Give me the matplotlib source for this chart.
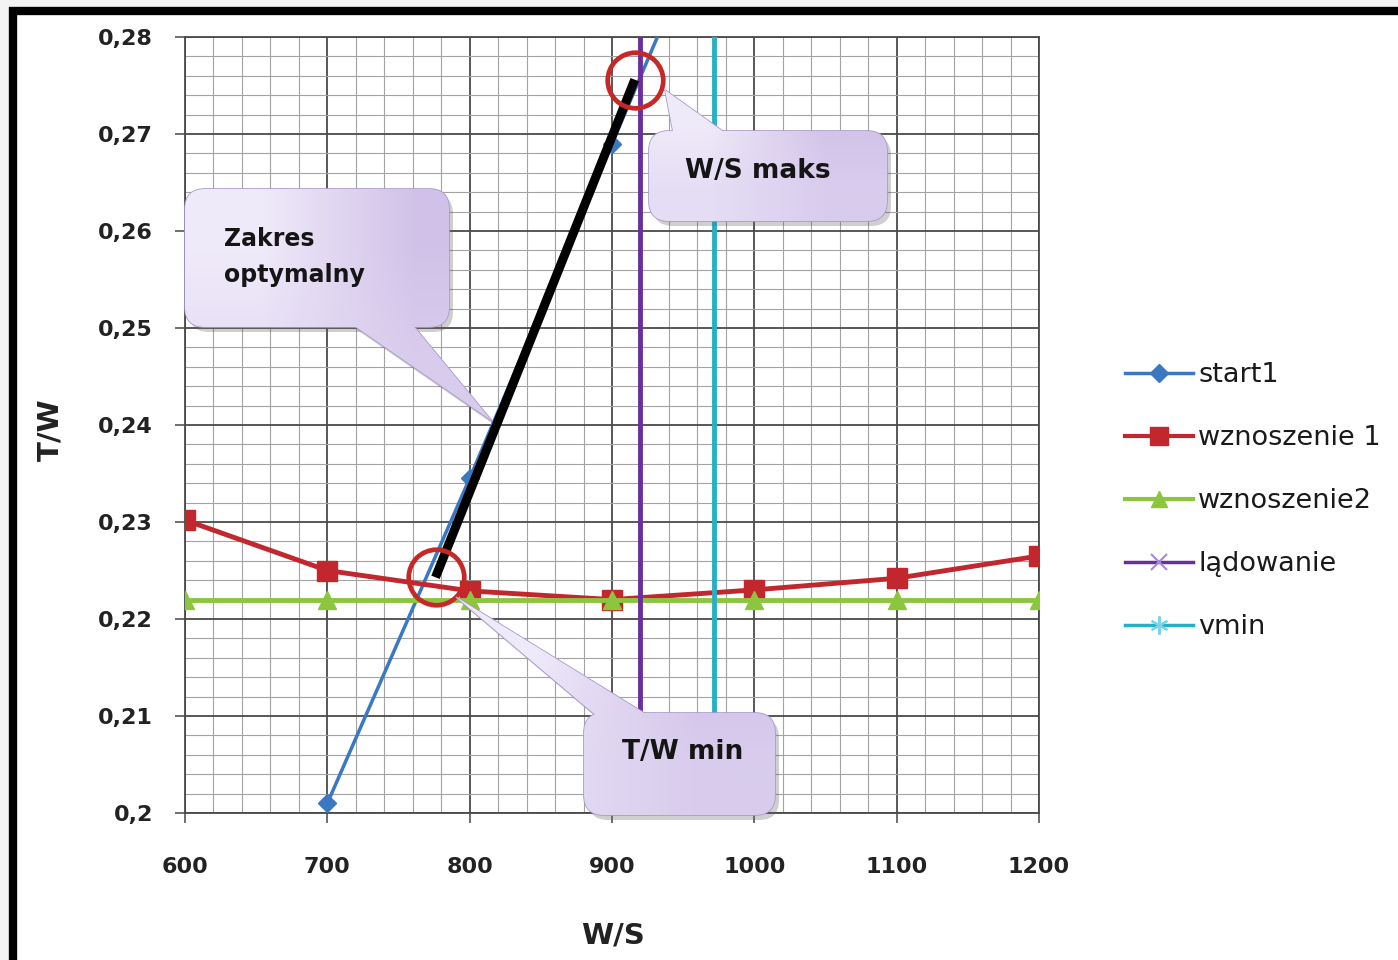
import matplotlib
matplotlib.use('Agg')
import matplotlib.pyplot as plt
import numpy as np
from matplotlib.patches import FancyBboxPatch, Polygon, Rectangle
from matplotlib.lines import Line2D
from matplotlib.ticker import MultipleLocator, FixedLocator, FixedFormatter

plt.rcParams['font.family'] = ['DejaVu Sans']

W, H = 1398, 960

# obciążenie powierzchni W/S i stosunek ciągu T/W
ws = [600, 700, 800, 900, 1000, 1100, 1200]
ws_start = [700, 800, 900, 1000]
start1 = [0.201, 0.2345, 0.269, 0.3035]
wznoszenie1 = [0.2302, 0.2250, 0.2229, 0.2220, 0.2230, 0.2242, 0.2265]
wznoszenie2 = [0.2220, 0.2220, 0.2220, 0.2220, 0.2220, 0.2220, 0.2220]
ladowanie_ws = 920
vmin_ws = 972

# zakres optymalny (od T/W min do W/S maks)
opt_ws = [776, 916]
opt_tw = [0.2243, 0.2756]

x_ticks = [600, 700, 800, 900, 1000, 1100, 1200]
y_ticks = [0.20, 0.21, 0.22, 0.23, 0.24, 0.25, 0.26, 0.27, 0.28]
y_labels = ['0,2', '0,21', '0,22', '0,23', '0,24', '0,25', '0,26', '0,27', '0,28']

c_start = '#3a78c2'
c_wz1 = '#c1272d'
c_wz2 = '#8cc63e'
c_lad = '#6a2f9c'
c_vmin = '#27b0c4'
c_ring = '#c62828'

fig = plt.figure(figsize=(W / 100, H / 100), dpi=100, facecolor='#f3f3f3')

# tło z czarną ramką (w pikselach)
bg = fig.add_axes([0, 0, 1, 1], zorder=0)
bg.set_xlim(0, W)
bg.set_ylim(H, 0)
bg.axis('off')
bg.add_patch(Rectangle((13, 11), W + 60, H + 60, facecolor='white',
                       edgecolor='black', lw=6))

ax = fig.add_axes([185 / W, 1 - 813 / H, (1039 - 185) / W, (813 - 37) / H], zorder=1)
ax.set_facecolor('none')
ax.set_xlim(600, 1200)
ax.set_ylim(0.20, 0.28)
ax.xaxis.set_major_locator(FixedLocator(x_ticks))
ax.yaxis.set_major_locator(FixedLocator(y_ticks))
ax.yaxis.set_major_formatter(FixedFormatter(y_labels))
ax.xaxis.set_minor_locator(MultipleLocator(20))
ax.yaxis.set_minor_locator(MultipleLocator(0.002))
ax.set_axisbelow(True)
ax.grid(which='major', color='#4a4a4a', lw=1.3)
ax.grid(which='minor', color='#a3a3a3', lw=0.8)
ax.tick_params(which='minor', length=0)
ax.tick_params(which='major', direction='out', length=7, width=1.2, color='#555555',
               labelsize=16, labelcolor='#222222')
ax.tick_params(axis='y', pad=16)
ax.tick_params(axis='x', pad=25)
for lab in ax.get_xticklabels() + ax.get_yticklabels():
    lab.set_fontweight('bold')
for sp in ax.spines.values():
    sp.set_color('#4a4a4a')
    sp.set_linewidth(1.3)

ax.plot(ws_start, start1, color=c_start, lw=2.5, marker='D', ms=9, zorder=3)
ax.plot(ws, wznoszenie1, color=c_wz1, lw=3.5, marker='s', ms=14, zorder=4)
ax.plot(ws, wznoszenie2, color=c_wz2, lw=3.5, marker='^', ms=13, zorder=5)
ax.axvline(ladowanie_ws, color=c_lad, lw=3.5, zorder=6)
ax.axvline(vmin_ws, color=c_vmin, lw=3.5, zorder=6)

ax.plot(opt_ws, opt_tw, color='black', lw=6.5, solid_capstyle='butt', zorder=7)
ax.plot(opt_ws, opt_tw, ls='none', marker='o', ms=40, mfc='none', mec=c_ring,
        mew=3.4, zorder=8)

fig.text(613 / W, 1 - 935 / H, 'W/S', ha='center', va='center', fontsize=21,
         fontweight='bold', color='#222222')
fig.text(50 / W, 1 - 430 / H, 'T/W', ha='center', va='center', fontsize=21,
         fontweight='bold', color='#222222', rotation=90)

# dymki z opisami
fg = fig.add_axes([0, 0, 1, 1], zorder=3)
fg.axis('off')
fg.patch.set_alpha(0)

grad = np.array([[[0.94, 0.92, 0.98], [0.82, 0.76, 0.91]],
                 [[0.90, 0.87, 0.96], [0.85, 0.80, 0.93]]])


def callout(box, tail, text, text_xy, ha='center', size=19):
    x0, y0, x1, y1 = box
    fg.add_patch(FancyBboxPatch((x0 + 4, y0 + 5), x1 - x0, y1 - y0,
                                boxstyle='round,pad=0,rounding_size=20',
                                fc='#606060', ec='none', alpha=0.3, zorder=1))
    fg.add_patch(Polygon([(px + 4, py + 5) for px, py in tail],
                         fc='#606060', ec='none', alpha=0.3, zorder=1))
    body = FancyBboxPatch((x0, y0), x1 - x0, y1 - y0,
                          boxstyle='round,pad=0,rounding_size=20',
                          fc='#ddd4ef', ec='#a999cc', lw=1.2, zorder=2)
    tip = Polygon(tail, fc='#ddd4ef', ec='#a999cc', lw=1.2, zorder=2)
    fg.add_patch(tip)
    fg.add_patch(body)
    # wspólny gradient dla dymka i ogonka
    xs = [x0, x1] + [p[0] for p in tail]
    ys = [y0, y1] + [p[1] for p in tail]
    ext = (min(xs), max(xs), max(ys), min(ys))
    for patch in (body, tip):
        im = fg.imshow(grad, extent=ext, interpolation='bilinear', aspect='auto', zorder=3)
        im.set_clip_path(patch)
    fg.text(text_xy[0], text_xy[1], text, ha=ha, va='center', fontsize=size,
            fontweight='bold', color='#151515', linespacing=1.6, zorder=4)


callout((185, 189, 449, 327), [(343, 318), (407, 318), (492, 421)],
        'Zakres\noptymalny', (224, 257), ha='left', size=17)
callout((649, 131, 887, 221), [(675, 142), (738, 142), (665, 90)],
        'W/S maks', (758, 171))
callout((584, 713, 775, 815), [(606, 724), (662, 724), (456, 597)],
        'T/W min', (683, 752))
fg.set_xlim(0, W)
fg.set_ylim(H, 0)

handles = [
    Line2D([], [], color=c_start, lw=2.5, marker='D', ms=9),
    Line2D([], [], color=c_wz1, lw=3, marker='s', ms=13),
    Line2D([], [], color=c_wz2, lw=3, marker='^', ms=12),
    Line2D([], [], color=c_lad, lw=2.5, marker='x', ms=11, mec='#a48ad6', mew=1.5),
    Line2D([], [], color=c_vmin, lw=2.5, marker=(6, 2, 0), ms=13, mec='#7fd3e6', mew=1.5),
]
labels = ['start1', 'wznoszenie 1', 'wznoszenie2', 'lądowanie', 'vmin']
leg = fig.legend(handles, labels, loc='upper left', bbox_to_anchor=(1125 / W, 1 - 362 / H),
                 frameon=False, fontsize=19.5, handlelength=2.5, handletextpad=0.2,
                 labelspacing=1.37, borderaxespad=0, borderpad=0)
for t in leg.get_texts():
    t.set_color('#1a1a1a')

fig.savefig('out.png', dpi=100, facecolor=fig.get_facecolor())
